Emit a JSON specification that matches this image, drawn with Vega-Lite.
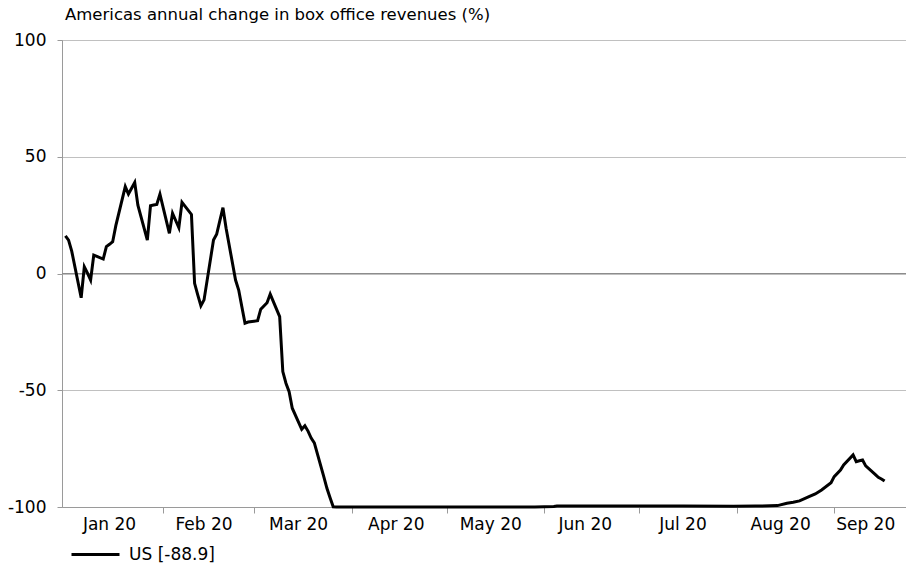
{
  "$schema": "https://vega.github.io/schema/vega-lite/v6.json",
  "width": 844,
  "height": 467,
  "autosize": {"type": "none"},
  "padding": {"left": 62, "top": 40, "right": 0, "bottom": 62},
  "background": "white",
  "config": {"view": {"stroke": null}, "font": "DejaVu Sans"},
  "title": {"text": "Americas annual change in box office revenues (%)", "anchor": "start", "frame": "group", "fontSize": 16.5, "fontWeight": "normal", "color": "black", "offset": 8, "dx": 3, "font": "DejaVu Sans"},
  "layer": [
    {
      "data": {"values": [{}]},
      "mark": {"type": "rule", "color": "#8c8c8c", "strokeWidth": 1},
      "encoding": {"y": {"datum": 0, "type": "quantitative"}}
    },
    {
      "data": {"values": [
        {"date": "2020-01-01", "value": 16.1},
        {"date": "2020-01-02", "value": 14.3},
        {"date": "2020-01-03", "value": 9.6},
        {"date": "2020-01-06", "value": -10.4},
        {"date": "2020-01-07", "value": 2.9},
        {"date": "2020-01-08", "value": 0.2},
        {"date": "2020-01-09", "value": -2.8},
        {"date": "2020-01-10", "value": 7.9},
        {"date": "2020-01-13", "value": 6.2},
        {"date": "2020-01-14", "value": 11.5},
        {"date": "2020-01-15", "value": 12.5},
        {"date": "2020-01-16", "value": 13.6},
        {"date": "2020-01-17", "value": 20.5},
        {"date": "2020-01-20", "value": 37.2},
        {"date": "2020-01-21", "value": 34},
        {"date": "2020-01-22", "value": 36.5},
        {"date": "2020-01-23", "value": 39},
        {"date": "2020-01-24", "value": 29.3},
        {"date": "2020-01-27", "value": 14.3},
        {"date": "2020-01-28", "value": 29},
        {"date": "2020-01-29", "value": 29.3},
        {"date": "2020-01-30", "value": 29.6},
        {"date": "2020-01-31", "value": 34},
        {"date": "2020-02-03", "value": 17.2},
        {"date": "2020-02-04", "value": 25.8},
        {"date": "2020-02-05", "value": 22.7},
        {"date": "2020-02-06", "value": 19.6},
        {"date": "2020-02-07", "value": 30.5},
        {"date": "2020-02-10", "value": 25.3},
        {"date": "2020-02-11", "value": -4.2},
        {"date": "2020-02-12", "value": -9.2},
        {"date": "2020-02-13", "value": -13.8},
        {"date": "2020-02-14", "value": -11.3},
        {"date": "2020-02-17", "value": 14.3},
        {"date": "2020-02-18", "value": 16.8},
        {"date": "2020-02-19", "value": 22.5},
        {"date": "2020-02-20", "value": 28.2},
        {"date": "2020-02-21", "value": 19.4},
        {"date": "2020-02-24", "value": -2.8},
        {"date": "2020-02-25", "value": -7.1},
        {"date": "2020-02-26", "value": -14.2},
        {"date": "2020-02-27", "value": -21.3},
        {"date": "2020-02-28", "value": -20.8},
        {"date": "2020-03-02", "value": -20.2},
        {"date": "2020-03-03", "value": -15.3},
        {"date": "2020-03-04", "value": -13.9},
        {"date": "2020-03-05", "value": -12.5},
        {"date": "2020-03-06", "value": -8.8},
        {"date": "2020-03-09", "value": -18.5},
        {"date": "2020-03-10", "value": -42},
        {"date": "2020-03-11", "value": -47},
        {"date": "2020-03-12", "value": -50.6},
        {"date": "2020-03-13", "value": -57.7},
        {"date": "2020-03-16", "value": -66.7},
        {"date": "2020-03-17", "value": -65.2},
        {"date": "2020-03-18", "value": -67.5},
        {"date": "2020-03-19", "value": -70.5},
        {"date": "2020-03-20", "value": -72.5},
        {"date": "2020-03-23", "value": -87},
        {"date": "2020-03-24", "value": -92},
        {"date": "2020-03-25", "value": -96},
        {"date": "2020-03-26", "value": -99.9},
        {"date": "2020-03-27", "value": -100},
        {"date": "2020-03-31", "value": -100},
        {"date": "2020-04-15", "value": -100},
        {"date": "2020-04-30", "value": -100},
        {"date": "2020-05-15", "value": -100},
        {"date": "2020-05-29", "value": -100},
        {"date": "2020-06-04", "value": -99.8},
        {"date": "2020-06-05", "value": -99.6},
        {"date": "2020-06-30", "value": -99.6},
        {"date": "2020-07-15", "value": -99.6},
        {"date": "2020-07-31", "value": -99.7},
        {"date": "2020-08-07", "value": -99.6},
        {"date": "2020-08-14", "value": -99.4},
        {"date": "2020-08-17", "value": -98.4},
        {"date": "2020-08-19", "value": -98},
        {"date": "2020-08-21", "value": -97.4},
        {"date": "2020-08-24", "value": -95.6},
        {"date": "2020-08-26", "value": -94.4},
        {"date": "2020-08-28", "value": -92.7},
        {"date": "2020-08-31", "value": -89.6},
        {"date": "2020-09-01", "value": -87},
        {"date": "2020-09-03", "value": -84.2},
        {"date": "2020-09-04", "value": -82},
        {"date": "2020-09-07", "value": -77.7},
        {"date": "2020-09-08", "value": -80.6},
        {"date": "2020-09-09", "value": -80.2},
        {"date": "2020-09-10", "value": -79.9},
        {"date": "2020-09-11", "value": -82.4},
        {"date": "2020-09-14", "value": -86},
        {"date": "2020-09-15", "value": -87.3},
        {"date": "2020-09-16", "value": -88},
        {"date": "2020-09-17", "value": -88.9}
      ]},
      "mark": {"type": "line", "strokeWidth": 3, "strokeJoin": "miter"},
      "encoding": {
        "x": {
          "field": "date", "type": "temporal",
          "scale": {"type": "utc", "domain": [
            {"year": 2019, "month": 12, "date": 30, "hours": 22, "utc": true},
            {"year": 2020, "month": 9, "date": 23, "hours": 19, "utc": true}
          ]},
          "axis": {
            "title": null, "labels": false, "grid": false,
            "values": [
              {"year": 2020, "month": 2, "date": 1, "utc": true},
              {"year": 2020, "month": 3, "date": 1, "utc": true},
              {"year": 2020, "month": 4, "date": 1, "utc": true},
              {"year": 2020, "month": 5, "date": 1, "utc": true},
              {"year": 2020, "month": 6, "date": 1, "utc": true},
              {"year": 2020, "month": 7, "date": 1, "utc": true},
              {"year": 2020, "month": 8, "date": 1, "utc": true},
              {"year": 2020, "month": 9, "date": 1, "utc": true}
            ],
            "domainColor": "#9a9a9a", "tickColor": "#9a9a9a", "tickSize": 6
          }
        },
        "y": {
          "field": "value", "type": "quantitative",
          "scale": {"domain": [-100, 100], "nice": false},
          "axis": {
            "title": null, "values": [-100, -50, 0, 50, 100],
            "labelExpr": "toString(datum.value)",
            "grid": true, "gridDash": [1, 1], "gridColor": "#808080",
            "domainColor": "#9a9a9a", "tickColor": "#9a9a9a", "tickSize": 5,
            "labelFontSize": 17, "labelColor": "black", "labelPadding": 11, "labelFont": "DejaVu Sans"
          }
        },
        "color": {
          "datum": "US [-88.9]", "type": "nominal",
          "scale": {"range": ["black"]},
          "legend": {
            "orient": "none", "legendX": 8, "legendY": 489, "title": null,
            "symbolType": "stroke", "symbolSize": 2304, "symbolStrokeWidth": 3,
            "labelFontSize": 17, "labelFont": "DejaVu Sans", "labelColor": "black", "labelOffset": 8
          }
        }
      }
    },
    {
      "data": {"values": [
        {"date": "2020-01-15", "label": "Jan 20"},
        {"date": "2020-02-14", "label": "Feb 20"},
        {"date": "2020-03-15", "label": "Mar 20"},
        {"date": "2020-04-15", "label": "Apr 20"},
        {"date": "2020-05-15", "label": "May 20"},
        {"date": "2020-06-14", "label": "Jun 20"},
        {"date": "2020-07-15", "label": "Jul 20"},
        {"date": "2020-08-15", "label": "Aug 20"},
        {"date": "2020-09-11", "label": "Sep 20"}
      ]},
      "mark": {"type": "text", "fontSize": 17, "font": "DejaVu Sans", "color": "black", "baseline": "middle", "dy": 18},
      "encoding": {
        "x": {"field": "date", "type": "temporal"},
        "y": {"datum": -100, "type": "quantitative"},
        "text": {"field": "label"}
      }
    }
  ]
}
